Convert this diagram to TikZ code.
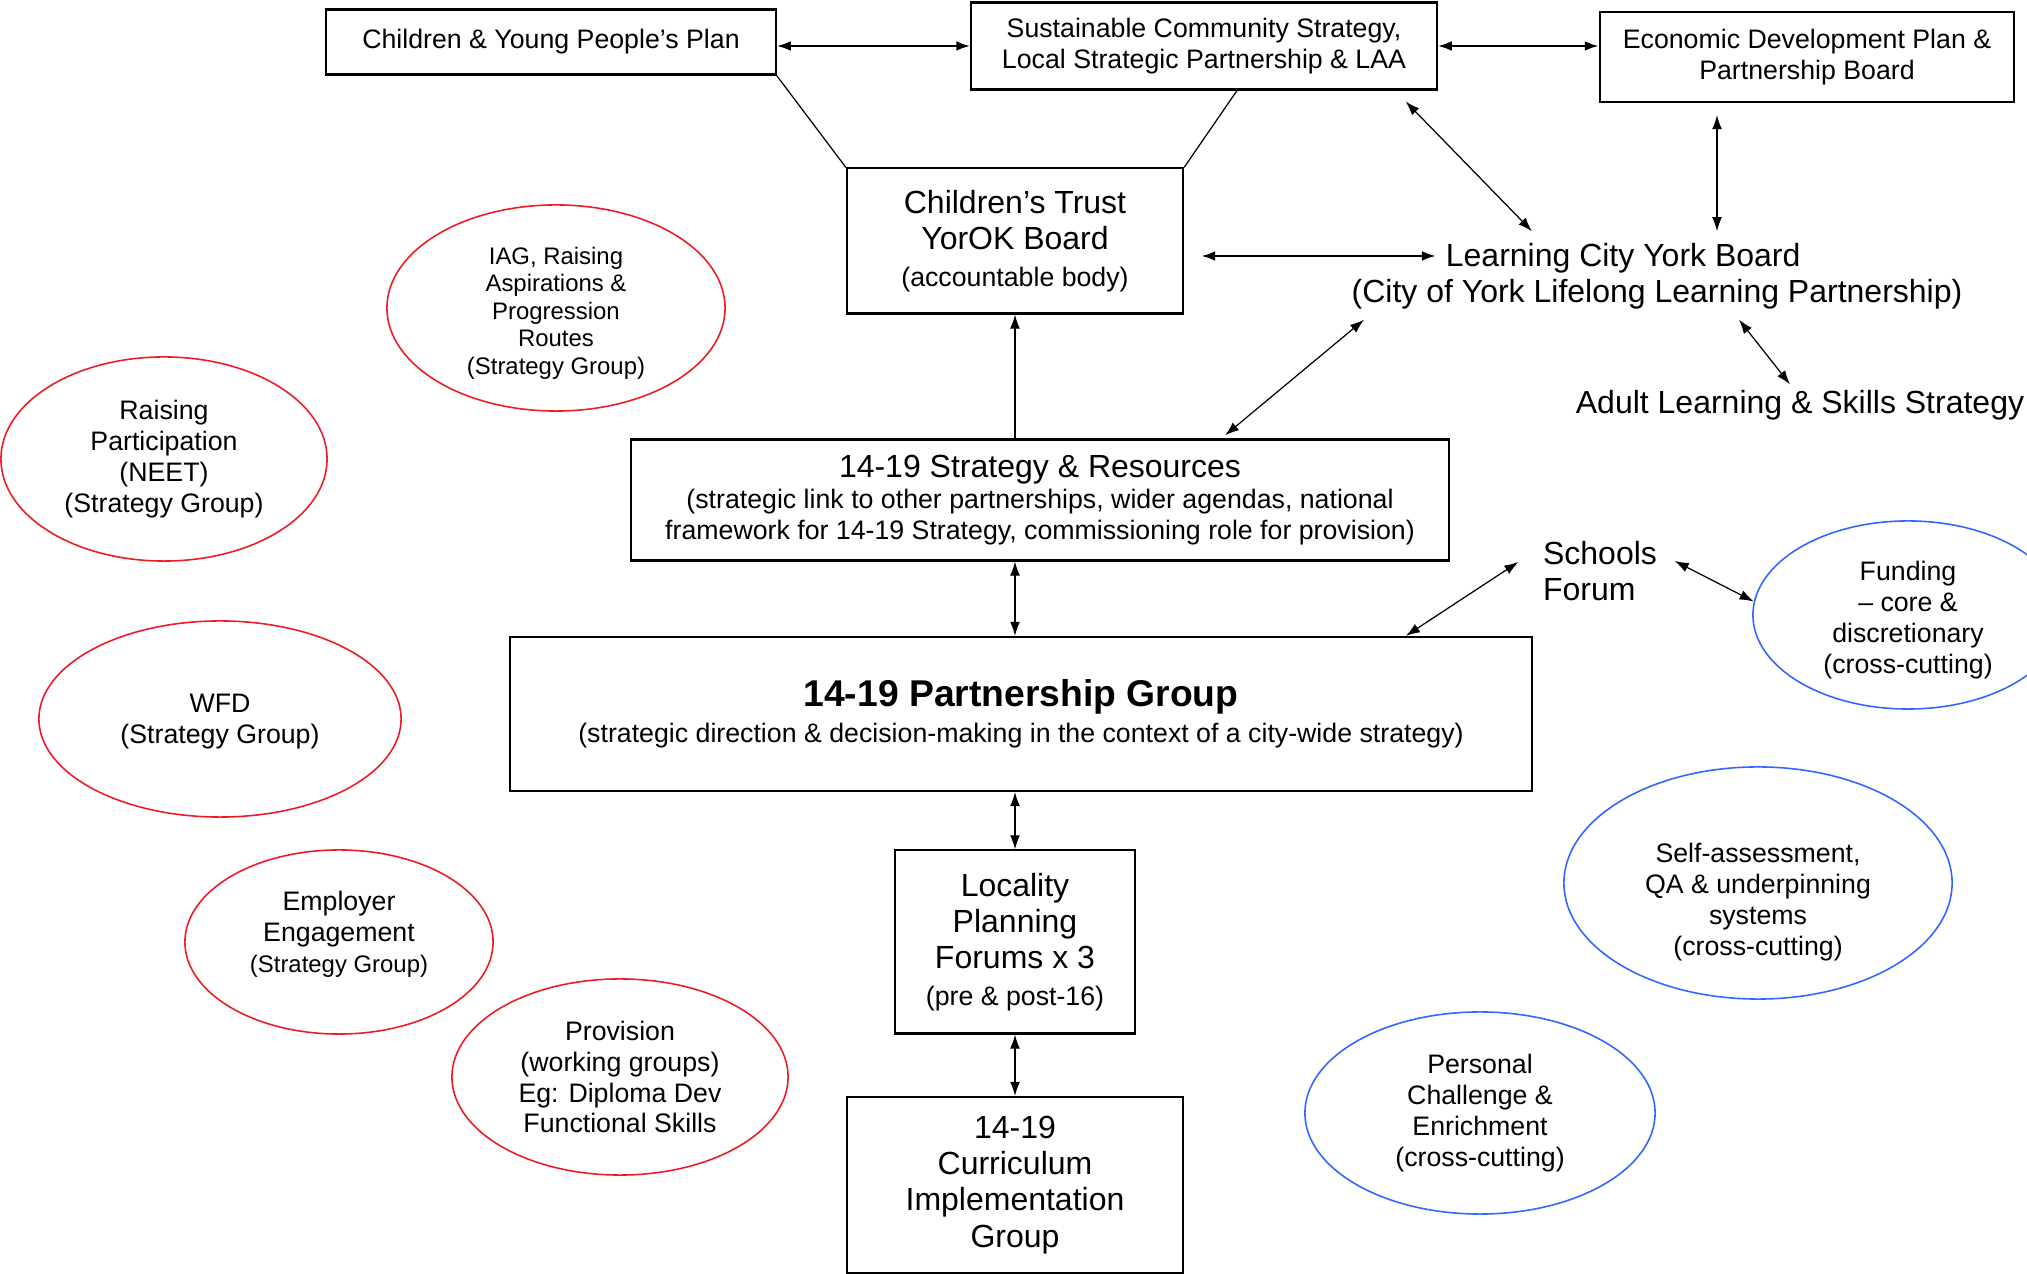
\documentclass[tikz,border=0pt]{standalone}
\usepackage{fontspec}
\setmainfont{Liberation Sans}
\usetikzlibrary{arrows.meta,shapes.geometric,calc}

\definecolor{groupred}{RGB}{237,28,36}
\definecolor{groupblue}{RGB}{51,102,255}

\newcommand{\fsmall}{\fontsize{7.6}{8.8}\selectfont}
\newcommand{\fbig}{\fontsize{9.1}{10.3}\selectfont}
\newcommand{\ftiny}{\fontsize{6.8}{7.8}\selectfont}
\newcommand{\ftitle}{\fontsize{10.6}{11.5}\selectfont\bfseries}

\tikzset{
  box/.style={draw,line width=0.6pt,align=center,inner sep=0pt},
  plain/.style={align=center,inner sep=0pt},
  group/.style={draw,ellipse,line width=0.45pt,inner sep=0pt},
  redgroup/.style={group,draw=groupred},
  bluegroup/.style={group,draw=groupblue},
  grouptext/.style={align=center,font=\fsmall},
  link/.style={line width=0.35pt},
  heavy/.style={line width=0.7pt},
}

\begin{document}
\begin{tikzpicture}[x=0.01cm,y=-0.01cm,>={Latex[length=4pt,width=2.8pt]}]

		\clip (0,0) rectangle (2027,1274);
		\fill[white] (0,0) rectangle (2027,1274);

		%% top row
		\node[box,font=\fsmall,minimum width=4.49cm,minimum height=0.65cm] (CYPP) at (551,42) {Children \& Young People’s Plan};
		\node[box,font=\fsmall,minimum width=4.65cm,minimum height=0.87cm] (SCS) at (1204,46) {Sustainable Community Strategy,\\Local Strategic Partnership \& LAA};
		\node[box,font=\fsmall,minimum width=4.14cm,minimum height=0.90cm] (EDP) at (1807,57) {Economic Development Plan \&\\Partnership Board};

		\node[box,font=\fbig,minimum width=3.36cm,minimum height=1.45cm] (CT) at (1015,241) {Children’s Trust\\YorOK Board\\{\fsmall (accountable body)}};
		\node[plain,align=left,font=\fbig] (LCYB) at (1657,276) {\hspace*{26.8pt}Learning City York Board\\(City of York Lifelong Learning Partnership)};
		\node[plain,font=\fbig] (Adult) at (1800,405) {Adult Learning \& Skills Strategy};

		\node[box,font=\fsmall,minimum width=8.18cm,minimum height=1.21cm] (SR) at (1040,500) {{\fbig 14-19 Strategy \& Resources}\\(strategic link to other partnerships, wider agendas, national\\framework for 14-19 Strategy, commissioning role for provision)};
		\node[plain,align=left,font=\fbig] (SF) at (1600,571) {Schools\\Forum};

		\node[box,font=\fbig,minimum width=10.21cm,minimum height=1.54cm] (PG) at (1021,714) {{\ftitle 14-19 Partnership Group}\\{\fsmall (strategic direction \& decision-making in the context of a city-wide strategy)}};
		\node[box,font=\fbig,minimum width=2.40cm,minimum height=1.83cm] (LPF) at (1015,942) {Locality\\Planning\\Forums x 3\\{\fsmall (pre \& post-16)}};
		\node[box,font=\fbig,minimum width=3.36cm,minimum height=1.76cm] (CIG) at (1015,1185) {14-19\\Curriculum\\Implementation\\Group};

		%% strategy groups
		\node[redgroup,minimum width=3.38cm,minimum height=2.06cm] (IAG) at (556,308) {};
		\node[grouptext,font=\ftiny] (IAGtext) at ($(IAG)+(0,5)$) {IAG, Raising\\Aspirations \&\\Progression\\Routes\\(Strategy Group)};
		\node[redgroup,minimum width=3.26cm,minimum height=2.04cm] (RP) at (164,459) {};
		\node[grouptext] (RPtext) at (RP) {Raising\\Participation\\(NEET)\\(Strategy Group)};
		\node[redgroup,minimum width=3.62cm,minimum height=1.96cm] (WFD) at (220,719) {};
		\node[grouptext] (WFDtext) at ($(WFD)+(0,3)$) {WFD\\(Strategy Group)};
		\node[redgroup,minimum width=3.08cm,minimum height=1.84cm] (EE) at (339,942) {};
		\node[grouptext] (EEtext) at ($(EE)+(0,-8)$) {Employer\\Engagement\\{\ftiny (Strategy Group)}};
		\node[redgroup,minimum width=3.36cm,minimum height=1.96cm] (PROV) at (620,1077) {};
		\node[grouptext] (PROVtext) at (PROV) {Provision\\(working groups)\\Eg: Diploma Dev\\Functional Skills};

		%% cross-cutting
		\node[bluegroup,minimum width=3.10cm,minimum height=1.88cm] (FUND) at (1908,615) {};
		\node[grouptext] (FUNDtext) at ($(FUND)+(0,5)$) {Funding\\– core \&\\discretionary\\(cross-cutting)};
		\node[bluegroup,minimum width=3.88cm,minimum height=2.32cm] (SA) at (1758,883) {};
		\node[grouptext] (SAtext) at ($(SA)+(0,19)$) {Self-assessment,\\QA \& underpinning\\systems\\(cross-cutting)};
		\node[bluegroup,minimum width=3.50cm,minimum height=2.02cm] (PCE) at (1480,1113) {};
		\node[grouptext] (PCEtext) at (PCE) {Personal\\Challenge \&\\Enrichment\\(cross-cutting)};

		\draw[<->,heavy] (SCS.west -| CYPP.east) to (SCS.west);
		\draw[<->,heavy] (SCS.east) to (SCS.east -| EDP.west);
		\draw[link] (CYPP.south east) to (CT.north west);
		\draw[link] ($(SCS.south)+(33,0)$) to (CT.north east);

		\draw[<->,link] ($(SCS.south east)+(-32,11)$) to ($(LCYB.north)+(-125,-11)$);
		\draw[<->,link] ($(EDP.south)+(-90,12)$) to ($(LCYB.north)+(60,-11)$);
		\draw[<->,heavy] ($(CT.east)+(17,15)$) to ($(LCYB.west)+(85,-20)$);
		\draw[<->,link] ($(LCYB.south)+(82,10)$) to ($(Adult.north)+(-10,-5)$);
		\draw[<->,link] ($(LCYB.south)+(-293,10)$) to ($(SR.north)+(185,-3)$);

		\draw[->,link] (SR.north -| CT.south) to (CT.south);
		\draw[<->,link] (SR.south -| LPF.north) to (PG.north -| LPF.north);
		\draw[<->,link] ($(PG.north east)+(-127,0)$) to ($(SF.west)+(-24,-9)$);
		\draw[<->,link] ($(SF.east)+(17,-10)$) to (FUND.175);
		\draw[<->,link] (PG.south -| LPF.north) to (LPF.north);
		\draw[<->,link] (LPF.south) to (CIG.north);

\end{tikzpicture}
\end{document}
